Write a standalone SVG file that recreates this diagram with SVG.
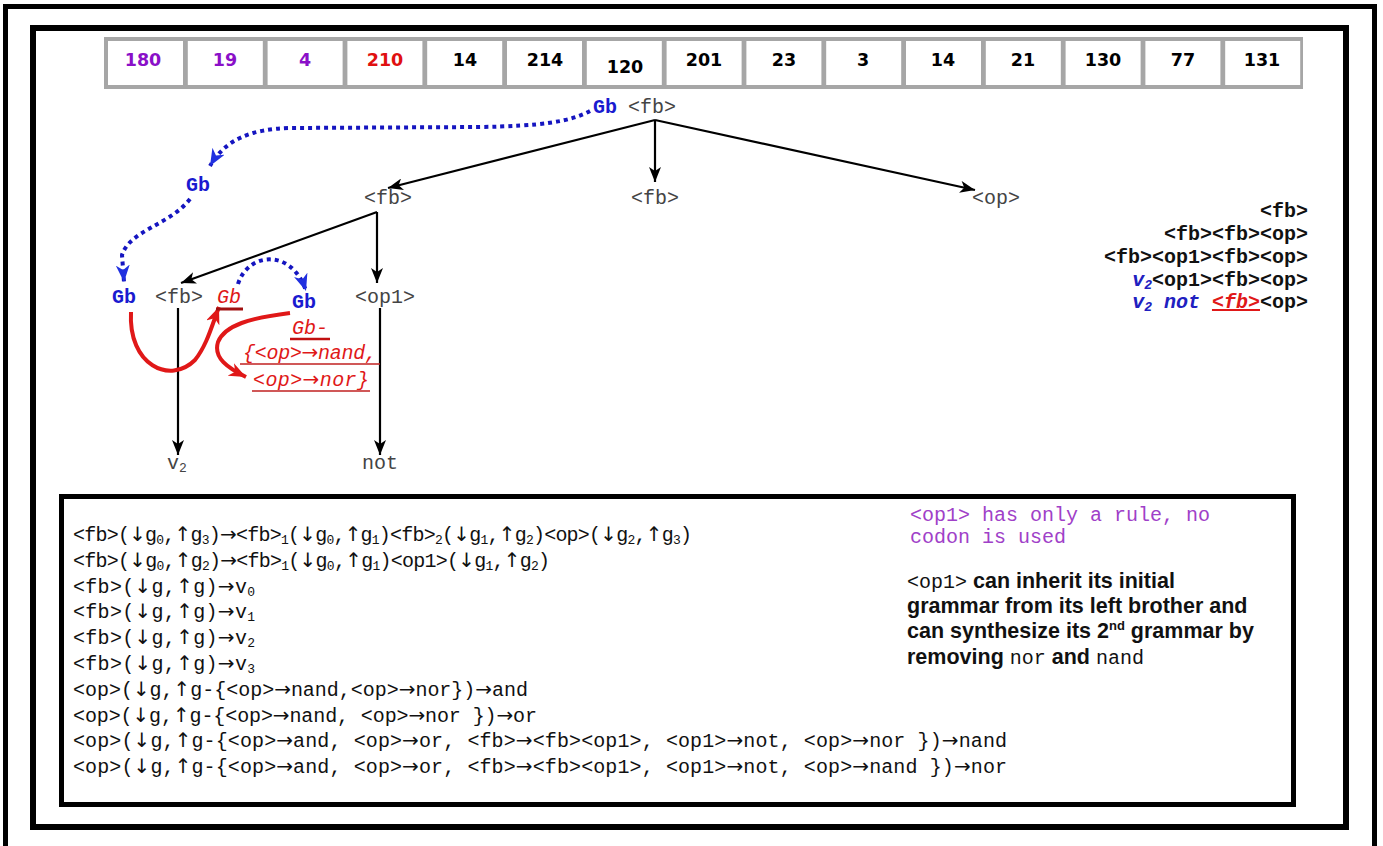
<svg xmlns="http://www.w3.org/2000/svg" width="1383" height="846" viewBox="0 0 1383 846">
<style>
.mono{font-family:"Liberation Mono","Courier New",monospace;font-size:20px}
.nt{fill:#444}
.gb{fill:#1a1ad0;font-weight:bold}
.red{fill:#e01818;font-style:italic}
.num{font-family:"DejaVu Sans",sans-serif;font-weight:bold;font-size:17.5px;text-anchor:middle}
.pur{fill:#8a10c8}
.edge{stroke:#000;stroke-width:2.2;fill:none}
.dot{stroke:#1515c0;stroke-width:4;stroke-dasharray:4 4;fill:none}
.rc{stroke:#e01818;stroke-width:4;fill:none}
.code{font-family:"Liberation Mono","Courier New",monospace;font-size:20px;fill:#111}
.ar{font-family:"DejaVu Sans",sans-serif}
.sans{font-family:"Liberation Sans",Arial,sans-serif;font-weight:bold;font-size:21.5px;fill:#111}
.lst{font-family:"Liberation Mono","Courier New",monospace;font-size:20px;font-weight:bold;text-anchor:end;fill:#111}
</style>
<defs>
<marker id="ab" markerUnits="userSpaceOnUse" markerWidth="16" markerHeight="12" refX="15" refY="6" orient="auto"><path d="M0,0 L15,6 L0,12 L4,6 z" fill="#000"/></marker>
<marker id="au" markerUnits="userSpaceOnUse" markerWidth="18" markerHeight="14" refX="17" refY="7" orient="auto"><path d="M0,0 L17,7 L0,14 L5,7 z" fill="#2030e0"/></marker>
<marker id="ar" markerUnits="userSpaceOnUse" markerWidth="18" markerHeight="14" refX="17" refY="7" orient="auto"><path d="M0,0 L17,7 L0,14 L5,7 z" fill="#e01818"/></marker>
</defs>
<rect width="1383" height="846" fill="#fff"/>
<g id="frames" fill="none" stroke="#000">
<rect x="5.5" y="6.5" width="1369" height="900" stroke-width="5"/>
<rect x="33" y="28" width="1313" height="799" stroke-width="6"/>
</g>
<g id="codons">
<rect x="104" y="37" width="1199" height="52" fill="#a6a6a6"/>
<g fill="#fff">
<rect x="108" y="41" width="75" height="44"/><rect x="187.8" y="41" width="75" height="44"/><rect x="267.6" y="41" width="75" height="44"/><rect x="347.4" y="41" width="75" height="44"/><rect x="427.2" y="41" width="75" height="44"/><rect x="507" y="41" width="75" height="44"/><rect x="586.8" y="41" width="75" height="44"/><rect x="666.6" y="41" width="75" height="44"/><rect x="746.4" y="41" width="75" height="44"/><rect x="826.2" y="41" width="75" height="44"/><rect x="906" y="41" width="75" height="44"/><rect x="985.8" y="41" width="75" height="44"/><rect x="1065.6" y="41" width="75" height="44"/><rect x="1145.4" y="41" width="75" height="44"/><rect x="1225.2" y="41" width="75" height="44"/>
</g>
<text class="num pur" x="143" y="66">180</text>
<text class="num pur" x="225" y="66">19</text>
<text class="num pur" x="305" y="66">4</text>
<text class="num" x="385" y="66" fill="#e01010">210</text>
<text class="num" x="465" y="66">14</text>
<text class="num" x="545" y="66">214</text>
<text class="num" x="625" y="73">120</text>
<text class="num" x="704" y="66">201</text>
<text class="num" x="784" y="66">23</text>
<text class="num" x="863" y="66">3</text>
<text class="num" x="943" y="66">14</text>
<text class="num" x="1023" y="66">21</text>
<text class="num" x="1103" y="66">130</text>
<text class="num" x="1183" y="66">77</text>
<text class="num" x="1262" y="66">131</text>
</g>
<g id="connectors">
<path class="edge" d="M655 120 L388 188" marker-end="url(#ab)"/>
<path class="edge" d="M655 120 L655 182" marker-end="url(#ab)"/>
<path class="edge" d="M655 120 L975 190" marker-end="url(#ab)"/>
<path class="edge" d="M377 212 L181 283" marker-end="url(#ab)"/>
<path class="edge" d="M377 212 L377 283" marker-end="url(#ab)"/>
<path class="edge" d="M178 308 L178 455" marker-end="url(#ab)"/>
<path class="edge" d="M380 308 L380 455" marker-end="url(#ab)"/>
<path class="dot" d="M590 111 C570 122 540 126 480 127 L290 128 C250 129 225 140 210 166" marker-end="url(#au)"/>
<path class="dot" d="M190 199 C170 225 130 230 122 255 L124 282" marker-end="url(#au)"/>
<path class="dot" d="M238 284 C248 252 292 248 306 291" marker-end="url(#au)"/>
<path class="rc" d="M131 312 C128 365 170 385 195 360 C207 345 212 325 219 307" marker-end="url(#ar)"/>
<path class="rc" d="M290 313 C250 318 225 325 218 342 C213 358 228 368 246 377" marker-end="url(#ar)"/>
</g>
<g id="n-root"><text class="mono gb" x="593" y="113">Gb</text><text class="mono nt" x="628" y="113">&lt;fb&gt;</text></g>
<g id="n-fb-left"><text class="mono nt" x="364" y="204">&lt;fb&gt;</text></g>
<g id="n-fb-mid"><text class="mono nt" x="631" y="204">&lt;fb&gt;</text></g>
<g id="n-op"><text class="mono nt" x="972" y="204">&lt;op&gt;</text></g>
<g id="n-gb2"><text class="mono gb" x="186" y="191">Gb</text></g>
<g id="n-gb3"><text class="mono gb" x="112" y="303">Gb</text></g>
<g id="n-fb3"><text class="mono nt" x="155" y="303">&lt;fb&gt;</text></g>
<g id="n-gbred"><text class="mono red" x="217" y="303">Gb</text><line x1="216" y1="309" x2="243" y2="309" stroke="#a01010" stroke-width="3"/></g>
<g id="n-gb4"><text class="mono gb" x="292" y="308">Gb</text></g>
<g id="n-op1"><text class="mono nt" x="355" y="303">&lt;op1&gt;</text></g>
<g id="n-v2"><text class="mono nt" x="167" y="469">v<tspan font-size="13" dy="3">2</tspan></text></g>
<g id="n-not"><text class="mono nt" x="362" y="469">not</text></g>
<g id="n-redtext">
<text class="mono red" x="292" y="334">Gb-</text>
<line x1="290" y1="339" x2="330" y2="339" stroke="#c01010" stroke-width="2.5"/>
<text class="mono red" x="243" y="359" textLength="134">{&lt;op&gt;<tspan class="ar">→</tspan>nand,</text>
<line x1="240" y1="364" x2="380" y2="364" stroke="#c02020" stroke-width="1.5"/>
<text class="mono red" x="253" y="386" textLength="116">&lt;op&gt;<tspan class="ar">→</tspan>nor}</text>
<line x1="252" y1="391" x2="370" y2="391" stroke="#c02020" stroke-width="1.5"/>
</g>
<g id="derivation">
<text class="lst" x="1308" y="217">&lt;fb&gt;</text>
<text class="lst" x="1308" y="240">&lt;fb&gt;&lt;fb&gt;&lt;op&gt;</text>
<text class="lst" x="1308" y="263">&lt;fb&gt;&lt;op1&gt;&lt;fb&gt;&lt;op&gt;</text>
<text class="lst" x="1308" y="286"><tspan fill="#2020c0" font-style="italic">v<tspan font-size="13" dy="3">2</tspan></tspan><tspan dy="-3">&lt;op1&gt;&lt;fb&gt;&lt;op&gt;</tspan></text>
<text class="lst" x="1308" y="308"><tspan fill="#2020c0" font-style="italic">v<tspan font-size="13" dy="3">2</tspan></tspan><tspan fill="#2020c0" font-style="italic" dy="-3"> not </tspan><tspan fill="#e01818" font-style="italic" text-decoration="underline">&lt;fb&gt;</tspan><tspan>&lt;op&gt;</tspan></text>
</g>
<g id="rules-box">
<rect x="61.5" y="496.5" width="1232" height="308" fill="none" stroke="#000" stroke-width="5"/>
<text class="code" x="73" y="541" textLength="619">&lt;fb&gt;(<tspan class="ar">↓</tspan>g<tspan font-size="13" dy="3">0</tspan><tspan dy="-3">,</tspan><tspan class="ar">↑</tspan>g<tspan font-size="13" dy="3">3</tspan><tspan dy="-3">)</tspan><tspan class="ar">→</tspan>&lt;fb&gt;<tspan font-size="13" dy="3">1</tspan><tspan dy="-3">(</tspan><tspan class="ar">↓</tspan>g<tspan font-size="13" dy="3">0</tspan><tspan dy="-3">,</tspan><tspan class="ar">↑</tspan>g<tspan font-size="13" dy="3">1</tspan><tspan dy="-3">)&lt;fb&gt;</tspan><tspan font-size="13" dy="3">2</tspan><tspan dy="-3">(</tspan><tspan class="ar">↓</tspan>g<tspan font-size="13" dy="3">1</tspan><tspan dy="-3">,</tspan><tspan class="ar">↑</tspan>g<tspan font-size="13" dy="3">2</tspan><tspan dy="-3">)&lt;op&gt;(</tspan><tspan class="ar">↓</tspan>g<tspan font-size="13" dy="3">2</tspan><tspan dy="-3">,</tspan><tspan class="ar">↑</tspan>g<tspan font-size="13" dy="3">3</tspan><tspan dy="-3">)</tspan></text>
<text class="code" x="73" y="567" textLength="477">&lt;fb&gt;(<tspan class="ar">↓</tspan>g<tspan font-size="13" dy="3">0</tspan><tspan dy="-3">,</tspan><tspan class="ar">↑</tspan>g<tspan font-size="13" dy="3">2</tspan><tspan dy="-3">)</tspan><tspan class="ar">→</tspan>&lt;fb&gt;<tspan font-size="13" dy="3">1</tspan><tspan dy="-3">(</tspan><tspan class="ar">↓</tspan>g<tspan font-size="13" dy="3">0</tspan><tspan dy="-3">,</tspan><tspan class="ar">↑</tspan>g<tspan font-size="13" dy="3">1</tspan><tspan dy="-3">)&lt;op1&gt;(</tspan><tspan class="ar">↓</tspan>g<tspan font-size="13" dy="3">1</tspan><tspan dy="-3">,</tspan><tspan class="ar">↑</tspan>g<tspan font-size="13" dy="3">2</tspan><tspan dy="-3">)</tspan></text>
<text class="code" x="73" y="593" textLength="182">&lt;fb&gt;(<tspan class="ar">↓</tspan>g,<tspan class="ar">↑</tspan>g)<tspan class="ar">→</tspan>v<tspan font-size="13" dy="3">0</tspan></text>
<text class="code" x="73" y="618" textLength="182">&lt;fb&gt;(<tspan class="ar">↓</tspan>g,<tspan class="ar">↑</tspan>g)<tspan class="ar">→</tspan>v<tspan font-size="13" dy="3">1</tspan></text>
<text class="code" x="73" y="644" textLength="182">&lt;fb&gt;(<tspan class="ar">↓</tspan>g,<tspan class="ar">↑</tspan>g)<tspan class="ar">→</tspan>v<tspan font-size="13" dy="3">2</tspan></text>
<text class="code" x="73" y="670" textLength="182">&lt;fb&gt;(<tspan class="ar">↓</tspan>g,<tspan class="ar">↑</tspan>g)<tspan class="ar">→</tspan>v<tspan font-size="13" dy="3">3</tspan></text>
<text class="code" x="73" y="696" textLength="455">&lt;op&gt;(<tspan class="ar">↓</tspan>g,<tspan class="ar">↑</tspan>g-{&lt;op&gt;<tspan class="ar">→</tspan>nand,&lt;op&gt;<tspan class="ar">→</tspan>nor})<tspan class="ar">→</tspan>and</text>
<text class="code" x="73" y="722" textLength="464">&lt;op&gt;(<tspan class="ar">↓</tspan>g,<tspan class="ar">↑</tspan>g-{&lt;op&gt;<tspan class="ar">→</tspan>nand, &lt;op&gt;<tspan class="ar">→</tspan>nor })<tspan class="ar">→</tspan>or</text>
<text class="code" x="73" y="747" textLength="934">&lt;op&gt;(<tspan class="ar">↓</tspan>g,<tspan class="ar">↑</tspan>g-{&lt;op&gt;<tspan class="ar">→</tspan>and, &lt;op&gt;<tspan class="ar">→</tspan>or, &lt;fb&gt;<tspan class="ar">→</tspan>&lt;fb&gt;&lt;op1&gt;, &lt;op1&gt;<tspan class="ar">→</tspan>not, &lt;op&gt;<tspan class="ar">→</tspan>nor })<tspan class="ar">→</tspan>nand</text>
<text class="code" x="73" y="773" textLength="934">&lt;op&gt;(<tspan class="ar">↓</tspan>g,<tspan class="ar">↑</tspan>g-{&lt;op&gt;<tspan class="ar">→</tspan>and, &lt;op&gt;<tspan class="ar">→</tspan>or, &lt;fb&gt;<tspan class="ar">→</tspan>&lt;fb&gt;&lt;op1&gt;, &lt;op1&gt;<tspan class="ar">→</tspan>not, &lt;op&gt;<tspan class="ar">→</tspan>nand })<tspan class="ar">→</tspan>nor</text>
<text class="code" x="910" y="521" style="fill:#a040c8">&lt;op1&gt; has only a rule, no</text>
<text class="code" x="910" y="543" style="fill:#a040c8">codon is used</text>
<text class="sans" x="907" y="588"><tspan class="code" style="font-weight:normal">&lt;op1&gt;</tspan> can inherit its initial</text>
<text class="sans" x="907" y="613">grammar from its left brother and</text>
<text class="sans" x="907" y="638">can synthesize its 2<tspan font-size="13" dy="-8">nd</tspan><tspan dy="8"> grammar by</tspan></text>
<text class="sans" x="907" y="664">removing <tspan class="code" style="font-weight:normal">nor</tspan> and <tspan class="code" style="font-weight:normal">nand</tspan></text>
</g>
</svg>
